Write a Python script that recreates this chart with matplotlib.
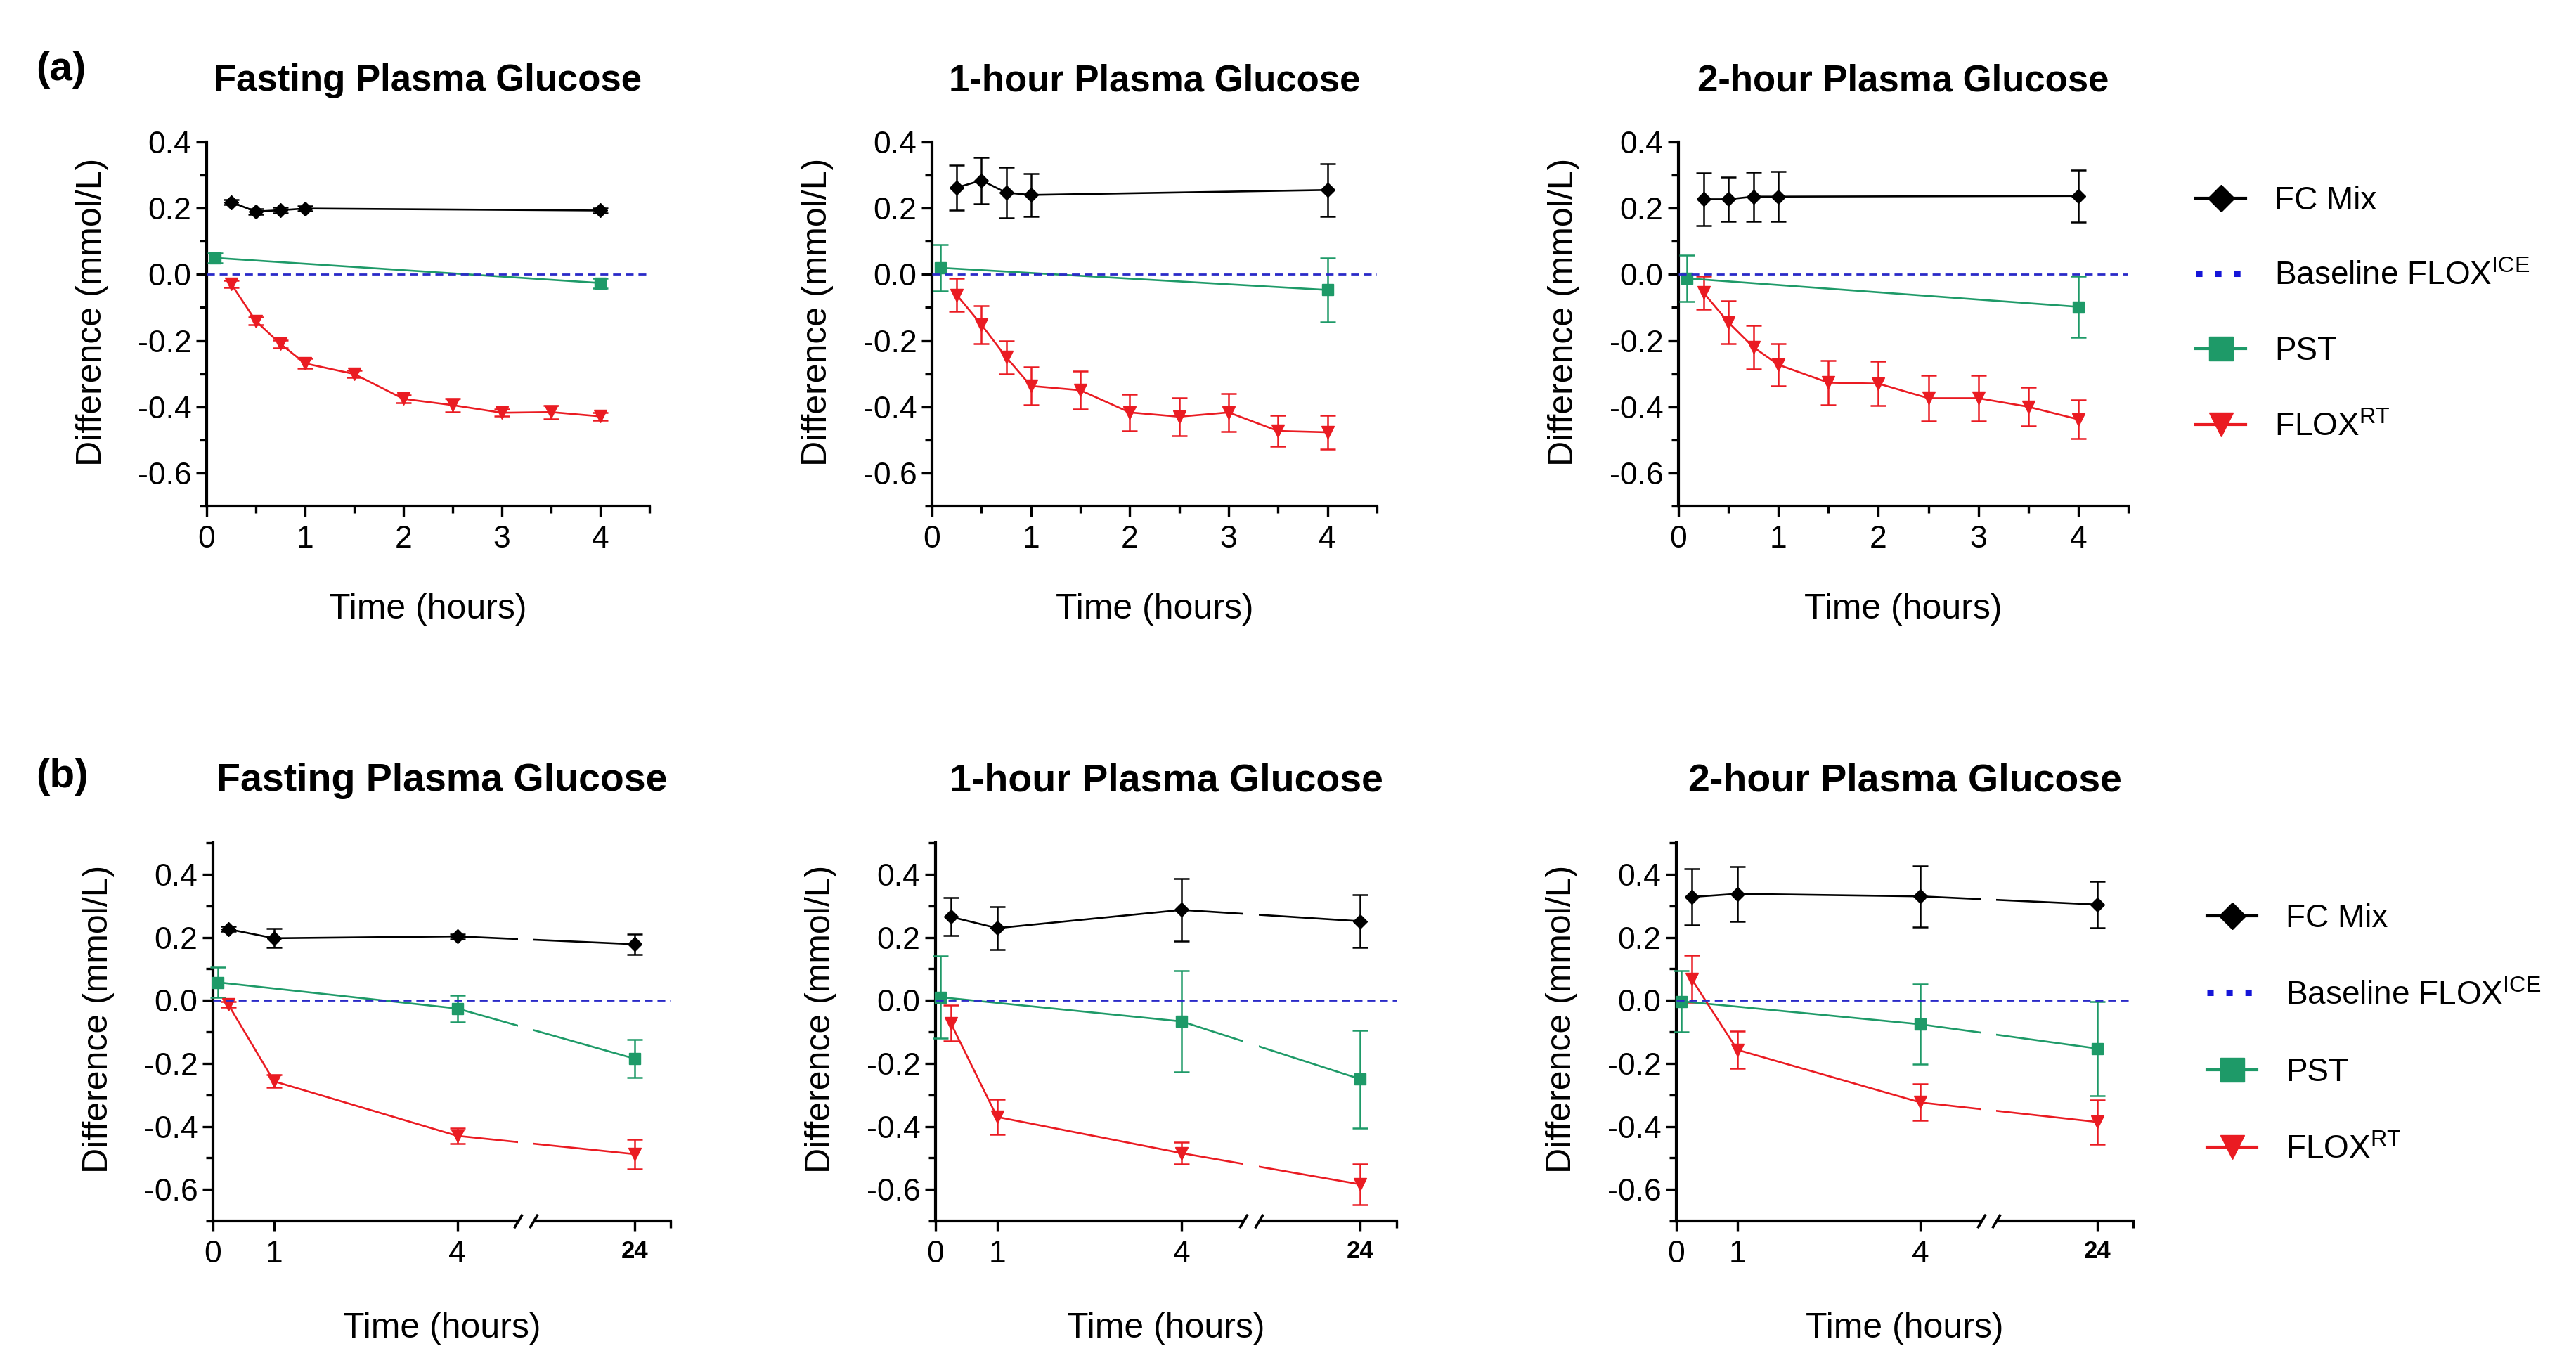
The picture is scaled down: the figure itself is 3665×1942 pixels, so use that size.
import numpy as np
import matplotlib
matplotlib.use("Agg")
import matplotlib.pyplot as plt
from matplotlib.lines import Line2D
from matplotlib.patches import Rectangle
from matplotlib.ticker import MultipleLocator
import matplotlib.transforms as mtransforms

plt.rcParams['font.family'] = ['Liberation Sans', 'DejaVu Sans']
plt.rcParams['mathtext.fontset'] = 'custom'
plt.rcParams['mathtext.rm'] = 'Liberation Sans'
plt.rcParams['mathtext.it'] = 'Liberation Sans:italic'
plt.rcParams['mathtext.bf'] = 'Liberation Sans:bold'
plt.rcParams['axes.unicode_minus'] = False

# ---------------- data ----------------
titles = ["Fasting Plasma Glucose", "1-hour Plasma Glucose", "2-hour Plasma Glucose"]
legend_labels = ["FC Mix", "Baseline FLOX$^{\\mathrm{ICE}}$", "PST", "FLOX$^{\\mathrm{RT}}$"]
x_label = "Time (hours)"
y_label = "Difference (mmol/L)"

a_yticks = [-0.6, -0.4, -0.2, 0.0, 0.2, 0.4]
a_yticklabels = ["-0.6", "-0.4", "-0.2", "0.0", "0.2", "0.4"]
a_xticks = [0, 1, 2, 3, 4]
a_xticklabels = ["0", "1", "2", "3", "4"]
b_yticks = [-0.6, -0.4, -0.2, 0.0, 0.2, 0.4]
b_yticklabels = ["-0.6", "-0.4", "-0.2", "0.0", "0.2", "0.4"]
b_xticks = [0, 1, 4, 24]
b_xticklabels = ["0", "1", "4", "24"]

# Row (a): 0-4 h
a_fc_x = [0.25, 0.5, 0.75, 1, 4]
a_pst_x = [0.083, 4]
a_flox_x = [0.25, 0.5, 0.75, 1, 1.5, 2, 2.5, 3, 3.5, 4]

a_fpg_fc = [0.218, 0.19, 0.194, 0.199, 0.193]
a_fpg_fc_err = [0.008, 0.008, 0.008, 0.008, 0.008]
a_fpg_pst = [0.05, -0.026]
a_fpg_pst_err = [0.015, 0.015]
a_fpg_flox = [-0.029, -0.141, -0.21, -0.269, -0.301, -0.376, -0.395, -0.418, -0.416, -0.429]
a_fpg_flox_err = [0.01, 0.012, 0.012, 0.015, 0.01, 0.012, 0.02, 0.01, 0.02, 0.012]

a_1h_fc = [0.262, 0.284, 0.247, 0.24, 0.255]
a_1h_fc_err = [0.068, 0.07, 0.076, 0.065, 0.08]
a_1h_pst = [0.02, -0.047]
a_1h_pst_err = [0.07, 0.096]
a_1h_flox = [-0.062, -0.152, -0.25, -0.337, -0.35, -0.417, -0.43, -0.417, -0.473, -0.477]
a_1h_flox_err = [0.05, 0.057, 0.05, 0.057, 0.057, 0.055, 0.058, 0.057, 0.047, 0.05]

a_2h_fc = [0.227, 0.227, 0.235, 0.235, 0.237]
a_2h_fc_err = [0.08, 0.066, 0.074, 0.076, 0.079]
a_2h_pst = [-0.012, -0.098]
a_2h_pst_err = [0.07, 0.093]
a_2h_flox = [-0.055, -0.145, -0.22, -0.273, -0.327, -0.33, -0.374, -0.374, -0.4, -0.438]
a_2h_flox_err = [0.05, 0.065, 0.065, 0.064, 0.067, 0.067, 0.068, 0.068, 0.058, 0.058]

# Row (b): 0-24 h
b_fc_x = [0.25, 1, 4, 24]
b_pst_x = [0.083, 4, 24]
b_flox_x = [0.25, 1, 4, 24]

b_fpg_fc = [0.226, 0.197, 0.203, 0.178]
b_fpg_fc_err = [0.008, 0.03, 0.008, 0.032]
b_fpg_pst = [0.057, -0.026, -0.185]
b_fpg_pst_err = [0.048, 0.043, 0.06]
b_fpg_flox = [-0.013, -0.257, -0.43, -0.488]
b_fpg_flox_err = [0.008, 0.02, 0.025, 0.047]

b_1h_fc = [0.265, 0.229, 0.287, 0.251]
b_1h_fc_err = [0.06, 0.067, 0.1, 0.084]
b_1h_pst = [0.01, -0.067, -0.25]
b_1h_pst_err = [0.13, 0.16, 0.155]
b_1h_flox = [-0.073, -0.37, -0.485, -0.584]
b_1h_flox_err = [0.057, 0.055, 0.035, 0.065]

b_2h_fc = [0.328, 0.338, 0.33, 0.304]
b_2h_fc_err = [0.09, 0.087, 0.097, 0.074]
b_2h_pst = [-0.003, -0.076, -0.153]
b_2h_pst_err = [0.097, 0.127, 0.15]
b_2h_flox = [0.068, -0.157, -0.324, -0.386]
b_2h_flox_err = [0.075, 0.06, 0.058, 0.07]

# ---------------- style ----------------
C_FC = "#000000"
C_PST = "#1e9a68"
C_FLOX = "#ea1b22"
C_BASE = "#2a2ac8"

W, H = 3666, 1942
fig = plt.figure(figsize=(W / 100, H / 100), dpi=100)

TICK_FS = 32
LABEL_FS = 36


def frac_rect(left, top, width, bottom):
    return [left / W, 1 - bottom / H, width / W, (bottom - top) / H]


a_rects = [frac_rect(294, 202, 630, 720), frac_rect(1326, 202, 633, 720), frac_rect(2388, 202, 640, 720)]
b_rects = [frac_rect(303, 1199, 651, 1737), frac_rect(1331, 1199, 656, 1737), frac_rect(2385, 1199, 650, 1737)]

# broken axis mapping for row (b)
BRK_LO, BRK_HI = 5.0, 21.2
SEG2 = 0.59
_xp = [-50.0, BRK_LO, BRK_HI, 100.0]
_fp = [-50.0, BRK_LO, BRK_LO + 0.25, BRK_LO + 0.25 + (100.0 - BRK_HI) * SEG2]


def fwd(x):
    return np.interp(np.asarray(x, dtype=float), _xp, _fp)


def inv(u):
    return np.interp(np.asarray(u, dtype=float), _fp, _xp)


def style_axes(ax, rect_px_width):
    for s in ("top", "right"):
        ax.spines[s].set_visible(False)
    for s in ("left", "bottom"):
        ax.spines[s].set_linewidth(3.0)
    ax.tick_params(which="major", direction="out", length=10.5, width=2.4, labelsize=TICK_FS)
    ax.tick_params(which="minor", direction="out", length=7, width=2.4)
    ax.tick_params(axis="y", which="major", pad=5)
    ax.tick_params(axis="x", which="major", pad=9)
    ax.set_ylabel(y_label, fontsize=LABEL_FS)
    ax.yaxis.set_label_coords(-140 / rect_px_width, 0.533)
    ax.set_xlabel(x_label, fontsize=LABEL_FS)
    ax.xaxis.label.set_va("baseline")
    ax.xaxis.set_label_coords(0.5, -0.309)


def draw_series(ax, fc, pst, flox):
    common = dict(lw=1.9, elinewidth=1.8, capsize=8, capthick=1.8, clip_on=False, zorder=3)
    ax.errorbar(fc[0], fc[1], yerr=fc[2], color=C_FC, marker="D", ms=10, **common)
    ax.errorbar(pst[0], pst[1], yerr=pst[2], color=C_PST, marker="s", ms=12, **common)
    ax.errorbar(flox[0], flox[1], yerr=flox[2], color=C_FLOX, marker="v", ms=13, **common)
    ax.axhline(0, color=C_BASE, lw=2.0, linestyle=(0, (4, 2.5)), zorder=4)


a_data = [
    ((a_fc_x, a_fpg_fc, a_fpg_fc_err), (a_pst_x, a_fpg_pst, a_fpg_pst_err), (a_flox_x, a_fpg_flox, a_fpg_flox_err)),
    ((a_fc_x, a_1h_fc, a_1h_fc_err), (a_pst_x, a_1h_pst, a_1h_pst_err), (a_flox_x, a_1h_flox, a_1h_flox_err)),
    ((a_fc_x, a_2h_fc, a_2h_fc_err), (a_pst_x, a_2h_pst, a_2h_pst_err), (a_flox_x, a_2h_flox, a_2h_flox_err)),
]
b_data = [
    ((b_fc_x, b_fpg_fc, b_fpg_fc_err), (b_pst_x, b_fpg_pst, b_fpg_pst_err), (b_flox_x, b_fpg_flox, b_fpg_flox_err)),
    ((b_fc_x, b_1h_fc, b_1h_fc_err), (b_pst_x, b_1h_pst, b_1h_pst_err), (b_flox_x, b_1h_flox, b_1h_flox_err)),
    ((b_fc_x, b_2h_fc, b_2h_fc_err), (b_pst_x, b_2h_pst, b_2h_pst_err), (b_flox_x, b_2h_flox, b_2h_flox_err)),
]

a_widths = [630, 633, 640]
b_widths = [651, 656, 650]

# Row (a)
for i, rect in enumerate(a_rects):
    ax = fig.add_axes(rect)
    draw_series(ax, *a_data[i])
    ax.set_xlim(0, 4.5)
    ax.set_ylim(-0.7, 0.4)
    ax.set_xticks(a_xticks)
    ax.set_xticklabels(a_xticklabels)
    ax.xaxis.set_minor_locator(MultipleLocator(0.5))
    ax.set_yticks(a_yticks)
    ax.set_yticklabels(a_yticklabels)
    ax.yaxis.set_minor_locator(MultipleLocator(0.1))
    style_axes(ax, a_widths[i])
    fig.text(rect[0] + rect[2] / 2, 1 - 129 / H, titles[i], fontsize=38,
             fontweight="bold", ha="center", va="baseline")

# Row (b)
for i, rect in enumerate(b_rects):
    ax = fig.add_axes(rect)
    ax.set_xscale("function", functions=(fwd, inv))
    draw_series(ax, *b_data[i])
    ax.set_xlim(0, 25)
    ax.set_ylim(-0.7, 0.5)
    ax.set_xticks(b_xticks)
    ax.set_xticklabels(b_xticklabels)
    ax.set_xticks([25], minor=True)
    ax.set_yticks(b_yticks)
    ax.set_yticklabels(b_yticklabels)
    ax.yaxis.set_minor_locator(MultipleLocator(0.1))
    style_axes(ax, b_widths[i])
    lbl = ax.get_xticklabels()[-1]
    lbl.set_fontweight("bold")
    lbl.set_fontsize(25)
    # gap in the lines and in the axis at the break
    ax.axvspan(BRK_LO, BRK_HI, color="white", zorder=3.5, lw=0)
    trans = mtransforms.blended_transform_factory(ax.transData, ax.transAxes)
    ax.add_patch(Rectangle((BRK_LO, -0.012), BRK_HI - BRK_LO, 0.024, transform=trans,
                           facecolor="white", edgecolor="none", zorder=5, clip_on=False))
    ax.plot([BRK_LO, BRK_HI], [0, 0], transform=trans, ls="none",
            marker=[(-0.6, -1), (0.6, 1)], ms=14, mew=2.6, mec="black",
            clip_on=False, zorder=6)
    fig.text(rect[0] + rect[2] / 2, 1 - 1125 / H, titles[i], fontsize=40,
             fontweight="bold", ha="center", va="baseline")

# panel letters
fig.text(51 / W, 1 - 99 / H, "(a)", fontsize=42, fontweight="bold", ha="left", va="center")
fig.text(51 / W, 1 - 1105 / H, "(b)", fontsize=42, fontweight="bold", ha="left", va="center")


def legend_handles():
    return [
        Line2D([], [], color=C_FC, marker="D", ms=19, lw=3),
        Line2D([], [], color="#1515d8", lw=6.5, linestyle=(0, (1, 2.0)), dash_capstyle="butt"),
        Line2D([], [], color=C_PST, marker="s", ms=24, lw=3),
        Line2D([], [], color=C_FLOX, marker="v", ms=25, lw=3),
    ]


for (lx, ly, sp) in [(3124, 264, 1.38), (3140, 1285, 1.43)]:
    fig.legend(legend_handles(), legend_labels, loc="upper left",
               bbox_to_anchor=(lx / W, 1 - ly / H), frameon=False, fontsize=33,
               handlelength=1.55, handletextpad=0.9, labelspacing=sp,
               borderpad=0, borderaxespad=0)

fig.savefig("out.png", dpi=100, facecolor="white")
